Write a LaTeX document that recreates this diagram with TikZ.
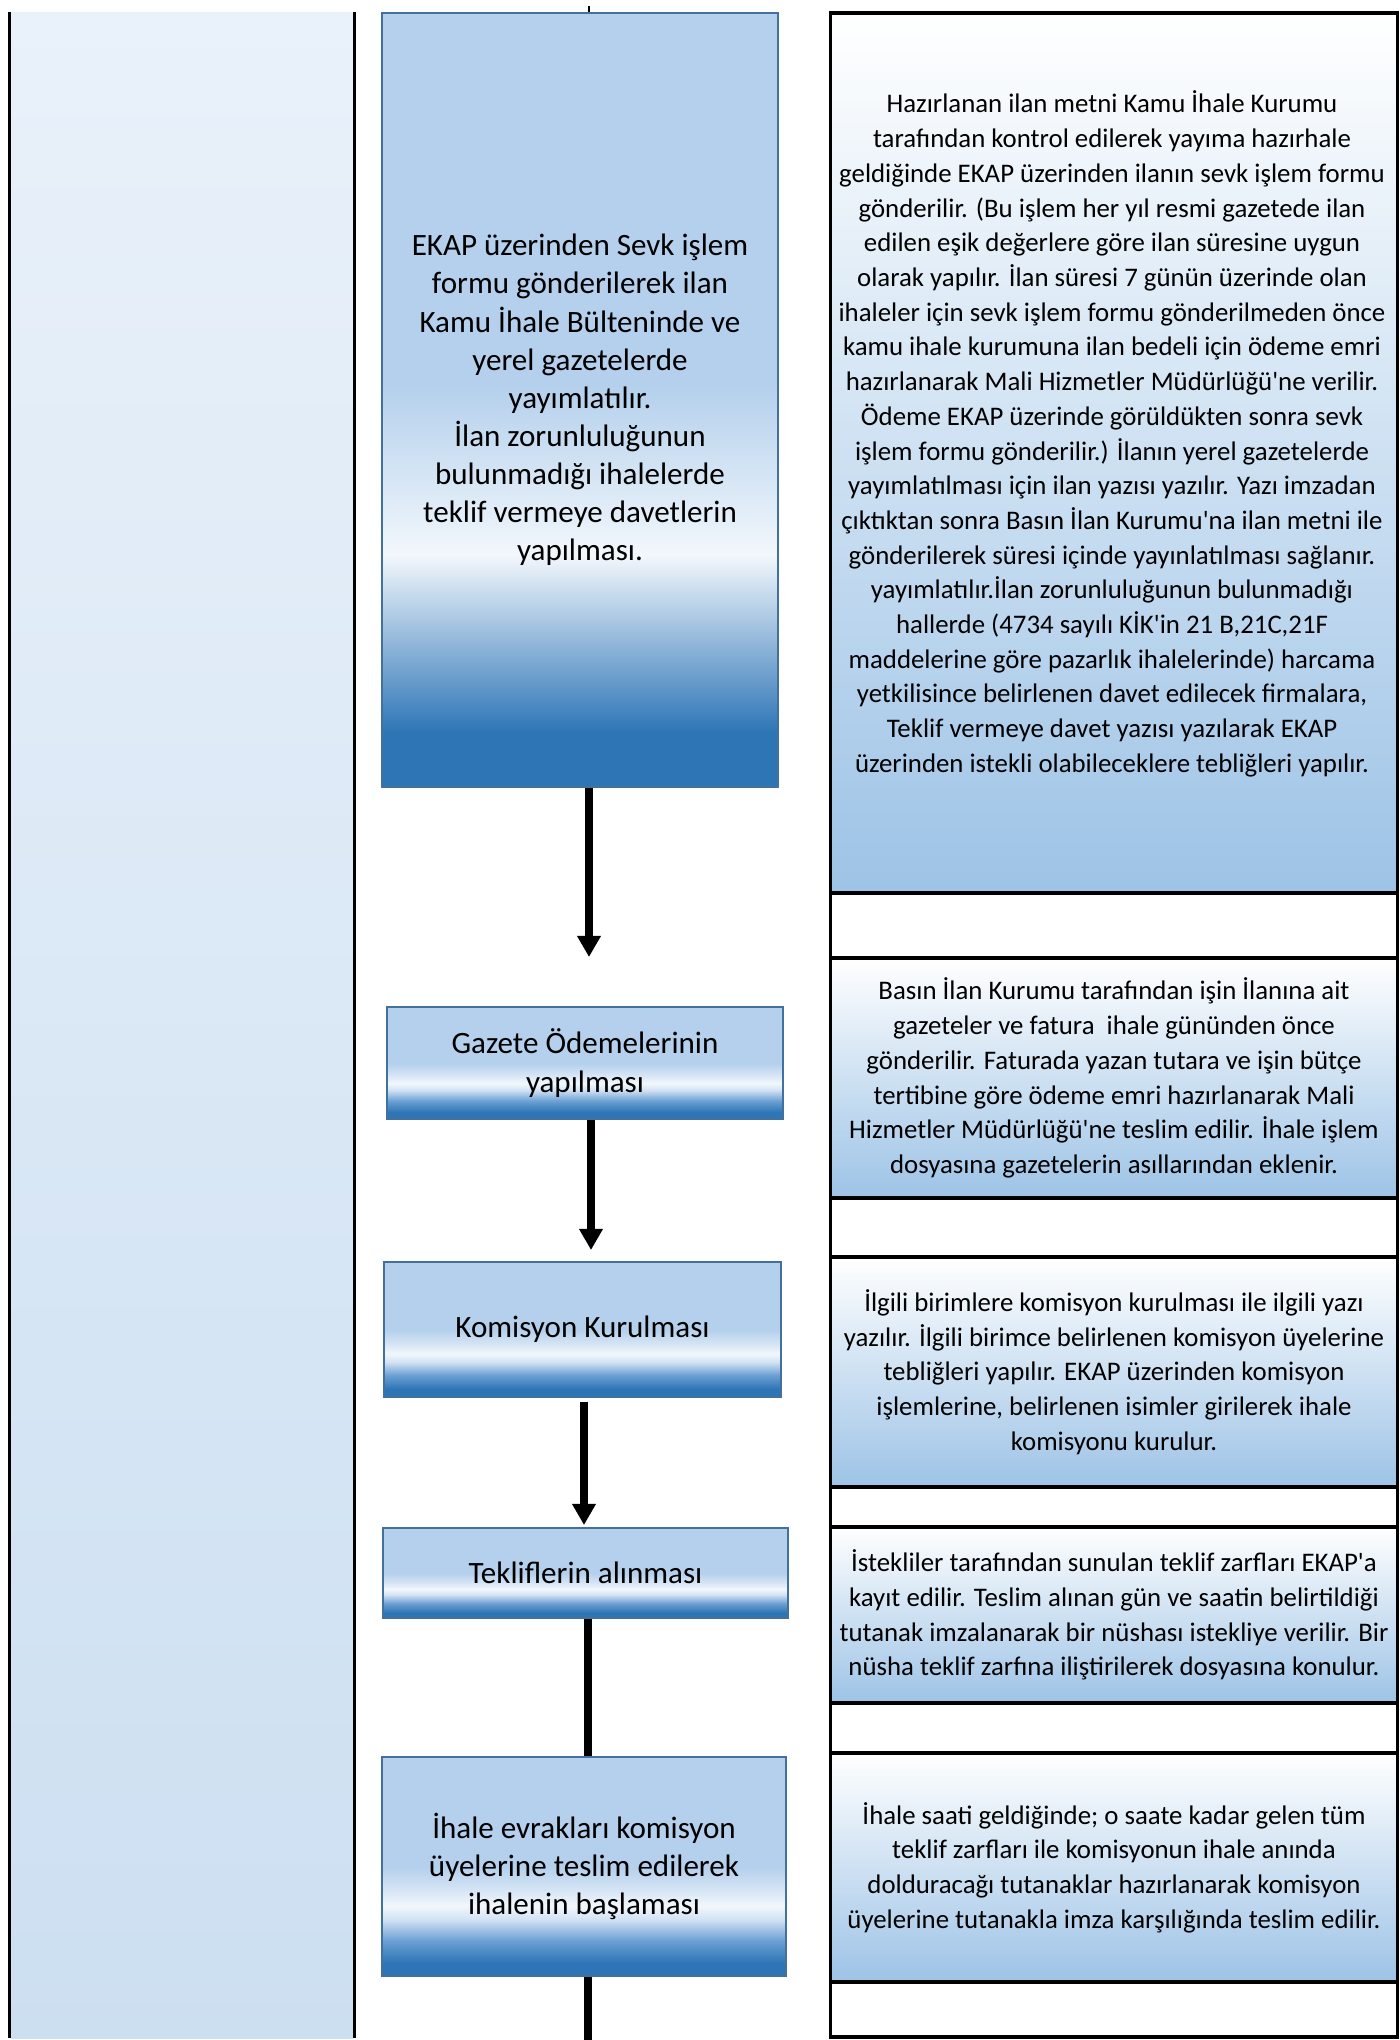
\documentclass[tikz,border=0pt]{standalone}
\usepackage{fontspec}
\setmainfont{Carlito}[Ligatures=TeXOff]
\usetikzlibrary{arrows.meta}
\definecolor{boxlight}{HTML}{B4D0EC}
\definecolor{boxdark}{HTML}{2E75B6}
\definecolor{boxwhite}{HTML}{F2F7FC}
\definecolor{boxpale}{HTML}{D3E3F4}
\definecolor{boxmid}{HTML}{6A9FD3}
\definecolor{boxborder}{HTML}{41719C}
\definecolor{cellblue}{HTML}{9DC3E6}
\definecolor{lefttop}{HTML}{E9F1FA}
\definecolor{leftbot}{HTML}{CCDFF1}
\pgfdeclareverticalshading{tallshade}{100bp}{color(0bp)=(boxdark); color(25bp)=(boxdark); color(28.5bp)=(boxdark); color(40bp)=(boxwhite); color(51bp)=(boxlight); color(75bp)=(boxlight); color(100bp)=(boxlight)}
\pgfdeclareverticalshading{stepshade}{100bp}{color(0bp)=(boxdark); color(25bp)=(boxdark); color(28bp)=(boxdark); color(33bp)=(boxmid); color(38bp)=(boxpale); color(41bp)=(boxwhite); color(45bp)=(boxpale); color(50bp)=(boxlight); color(75bp)=(boxlight); color(100bp)=(boxlight)}
\tikzset{
  stepbox/.style={draw=boxborder, line width=0.9pt, inner sep=0pt, align=center,
    font=\fontsize{13.2}{16.2}\selectfont, shading=stepshade},
  tallbox/.style={stepbox, shading=tallshade},
  cell/.style={inner sep=0pt, top color=white, bottom color=cellblue, minimum width=240.55pt},
  celltext/.style={align=center, inner sep=0pt, font=\fontsize{11.4}{14.75}\selectfont},
  flow/.style={line width=3.4pt, -{Triangle[width=9.6pt,length=9pt]}},
  flowline/.style={line width=3.2pt},
  rule/.style={line width=1.35pt},
  side/.style={line width=1.2pt}
}
\begin{document}
\begin{tikzpicture}[x=0.425pt,y=-0.425pt]
\useasboundingbox (0,0) rectangle (1400,2040);
% left column
\fill[top color=lefttop, bottom color=leftbot] (11,12) rectangle (353,2038);
\draw[side] (9.5,12) -- (9.5,2038);
\draw[side] (354.5,12) -- (354.5,2038);
% middle boxes
\node[tallbox, minimum width=168.3pt, minimum height=328.95pt] (b1) at (580,400) {EKAP üzerinden Sevk işlem\\formu gönderilerek ilan\\Kamu İhale Bülteninde ve\\yerel gazetelerde\\yayımlatılır.\\İlan zorunluluğunun\\bulunmadığı ihalelerde\\teklif vermeye davetlerin\\yapılması.};
\node[stepbox, minimum width=168.3pt, minimum height=47.6pt] (b2) at (585,1063) {Gazete Ödemelerinin\\yapılması};
\node[stepbox, minimum width=168.7pt, minimum height=57.4pt] (b3) at (582.5,1329.5) {Komisyon Kurulması};
\node[stepbox, minimum width=172.1pt, minimum height=38.25pt] (b4) at (585.5,1573) {Tekliflerin alınması};
\node[stepbox, minimum width=171.7pt, minimum height=93.1pt] (b5) at (584,1866.5) {İhale evrakları komisyon\\üyelerine teslim edilerek\\ihalenin başlaması};
% connectors
\coordinate (c0) at (589,6);
\coordinate (t1) at (589,957);
\coordinate (t2) at (591,1250);
\coordinate (t3) at (584,1525);
\coordinate (c4) at (588,1700);
\coordinate (c6) at (588,2040);
\draw[line width=1pt] (b1.north -| c0) -- (c0);
\draw[flow] (b1.south -| t1) -- (t1);
\draw[flow] (b2.south -| t2) -- (t2);
\draw[flow] ([yshift=-1.5pt]b3.south -| t3) -- (t3);
\draw[flowline] (b4.south -| c4) -- (b5.north -| c4);
\draw[flowline] (b5.south -| c6) -- (c6);
% right column cells
\node[cell, minimum height=374pt] (r1) at (1114,453) {};
\node[celltext] (r1t) at (1112,434) {Hazırlanan ilan metni Kamu İhale Kurumu\\tarafından kontrol edilerek yayıma hazırhale\\geldiğinde EKAP üzerinden ilanın sevk işlem formu\\gönderilir. (Bu işlem her yıl resmi gazetede ilan\\edilen eşik değerlere göre ilan süresine uygun\\olarak yapılır. İlan süresi 7 günün üzerinde olan\\ihaleler için sevk işlem formu gönderilmeden önce\\kamu ihale kurumuna ilan bedeli için ödeme emri\\hazırlanarak Mali Hizmetler Müdürlüğü'ne verilir.\\Ödeme EKAP üzerinde görüldükten sonra sevk\\işlem formu gönderilir.) İlanın yerel gazetelerde\\yayımlatılması için ilan yazısı yazılır. Yazı imzadan\\çıktıktan sonra Basın İlan Kurumu'na ilan metni ile\\gönderilerek süresi içinde yayınlatılması sağlanır.\\yayımlatılır.İlan zorunluluğunun bulunmadığı\\hallerde (4734 sayılı KİK'in 21 B,21C,21F\\maddelerine göre pazarlık ihalelerinde) harcama\\yetkilisince belirlenen davet edilecek firmalara,\\Teklif vermeye davet yazısı yazılarak EKAP\\üzerinden istekli olabileceklere tebliğleri yapılır.};
\node[cell, celltext, minimum height=102pt] (r2) at (1114,1078) {Basın İlan Kurumu tarafından işin İlanına ait\\gazeteler ve fatura\ \ ihale gününden önce\\gönderilir. Faturada yazan tutara ve işin bütçe\\tertibine göre ödeme emri hazırlanarak Mali\\Hizmetler Müdürlüğü'ne teslim edilir. İhale işlem\\dosyasına gazetelerin asıllarından eklenir.};
\node[cell, celltext, minimum height=97.75pt] (r3) at (1114,1372) {İlgili birimlere komisyon kurulması ile ilgili yazı\\yazılır. İlgili birimce belirlenen komisyon üyelerine\\tebliğleri yapılır. EKAP üzerinden komisyon\\işlemlerine, belirlenen isimler girilerek ihale\\komisyonu kurulur.};
\node[cell, celltext, minimum height=74.8pt] (r4) at (1114,1615) {İstekliler tarafından sunulan teklif zarfları EKAP'a\\kayıt edilir. Teslim alınan gün ve saatin belirtildiği\\tutanak imzalanarak bir nüshası istekliye verilir. Bir\\nüsha teklif zarfına iliştirilerek dosyasına konulur.};
\node[cell, celltext, minimum height=97.3pt] (r5) at (1114,1867.5) {İhale saati geldiğinde; o saate kadar gelen tüm\\teklif zarfları ile komisyonun ihale anında\\dolduracağı tutanaklar hazırlanarak komisyon\\üyelerine tutanakla imza karşılığında teslim edilir.};
% right column rules
\foreach \yy in {13,893,958,1198,1257,1487,1527,1703,1753,1982,2037}
  \draw[rule] (829,\yy) -- (1399,\yy);
\draw[side] (830.5,13) -- (830.5,2037);
\draw[side] (1397.5,13) -- (1397.5,2037);
\end{tikzpicture}
\end{document}
